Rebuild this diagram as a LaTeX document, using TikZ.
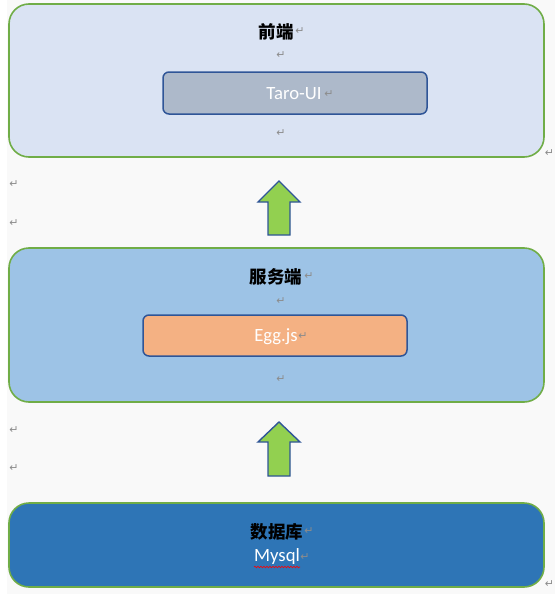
\documentclass[tikz,border=0pt]{standalone}
\usepackage{fontspec}
\setmainfont{Carlito}
\newfontfamily\cjk{Noto Sans CJK SC}
\newfontfamily\symf{DejaVu Sans}
\usetikzlibrary{decorations.pathmorphing}
\definecolor{bgc}{HTML}{F9F9F9}
\definecolor{grn}{HTML}{70AD47}
\definecolor{fe}{HTML}{DAE3F3}
\definecolor{srv}{HTML}{9DC3E6}
\definecolor{dbc}{HTML}{2E75B6}
\definecolor{taro}{HTML}{ADB9CA}
\definecolor{egg}{HTML}{F4B183}
\definecolor{dkb}{HTML}{2F5597}
\definecolor{arr}{HTML}{92D050}
\definecolor{pmc}{HTML}{8C8C8C}
\begin{document}
\begin{tikzpicture}[x=1pt,y=-1pt,
  layer/.style={draw=grn,line width=1.6pt,rounded corners=20pt},
  inner/.style={draw=dkb,line width=1.5pt,rounded corners=6pt},
  ttl/.style={font=\cjk\bfseries\fontsize{17.5}{20}\selectfont,inner sep=0pt,anchor=center},
  wtxt/.style={font=\fontsize{18.7}{21}\selectfont,text=white,inner sep=0pt,anchor=center},
  pm/.style={font=\symf\fontsize{11}{12}\selectfont,text=pmc,inner sep=0pt,anchor=center},
  uparr/.style={draw=dkb,fill=arr,line width=1.4pt,line join=miter}]
\useasboundingbox (0,0) rectangle (555,594);
\fill[bgc] (0,0) rectangle (555,594);
\fill[white] (0,0) rectangle (7,594);
% layer boxes
\draw[layer,fill=fe] (9,4) rectangle (544,157);
\draw[layer,fill=srv] (9,248) rectangle (544,402);
\draw[layer,fill=dbc] (9,503) rectangle (544,587);
% inner boxes
\draw[inner,fill=taro] (163,72) rectangle (427,114);
\draw[inner,fill=egg] (143,315) rectangle (407,356);
% texts
\node[ttl] (fe) at (276,32) {前端};
\node[pm] (fepm) at (300,31) {↵};
\node[pm] (pm1) at (281,55) {↵};
\node[wtxt] (taro) at (294,94) {Taro-UI};
\node[pm] (pm2) at (329,94) {↵};
\node[pm] (pm3) at (281,133) {↵};
\node[pm] (pm4) at (549.5,153) {↵};
\node[pm] (pm5) at (14,184) {↵};
\node[pm] (pm6) at (14,223) {↵};
\node[ttl] (srv) at (276,277) {服务端};
\node[pm] (srvpm) at (309,276) {↵};
\node[pm] (pm7) at (281,301) {↵};
\node[wtxt] (egg) at (276,337) {Egg.js};
\node[pm] (pm8) at (303,336) {↵};
\node[pm] (pm9) at (281,379) {↵};
\node[pm] (pm10) at (14,430) {↵};
\node[pm] (pm11) at (14,468) {↵};
\node[ttl] (db) at (277,532) {数据库};
\node[pm] (dbpm) at (309,531) {↵};
\node[wtxt] (mysql) at (277,557) {Mysql};
\node[pm] (mpm) at (305,557) {↵};
\node[pm] (pm12) at (549.5,584) {↵};
\draw[red,line width=0.6pt,decorate,decoration={snake,amplitude=0.8pt,segment length=3pt}] (254,567) -- (300,567);
% arrows
\draw[uparr] (279,181) -- (300,202) -- (290,202) -- (290,235) -- (268,235) -- (268,202) -- (258,202) -- cycle;
\draw[uparr] (279,422) -- (300,442) -- (290,442) -- (290,476) -- (268,476) -- (268,442) -- (258,442) -- cycle;
\end{tikzpicture}
\end{document}
